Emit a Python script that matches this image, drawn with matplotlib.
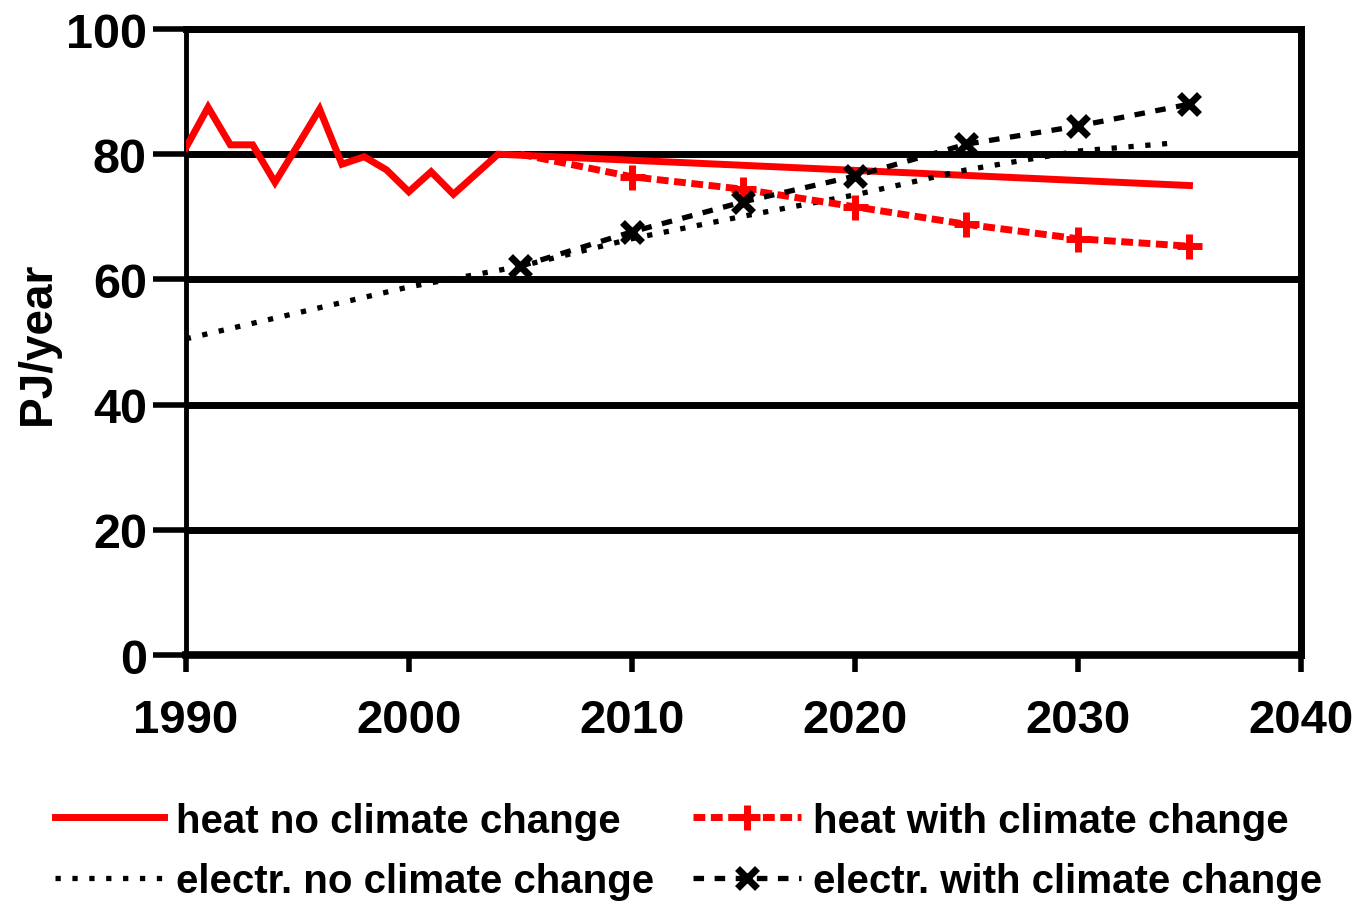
import matplotlib
matplotlib.use("Agg")
import matplotlib.pyplot as plt

plt.rcParams['font.family'] = ['Liberation Sans', 'DejaVu Sans']

# heat demand, historic years plus the no-climate-change projection
heat_years = [1990, 1991, 1992, 1993, 1994, 1995, 1996, 1997, 1998, 1999,
              2000, 2001, 2002, 2003, 2004, 2035]
heat_no_cc = [81, 87.5, 81.5, 81.5, 75.5, 81.3, 87.2, 78.4, 79.6, 77.5,
              74, 77.2, 73.6, 76.8, 80, 75]

# projections with climate change
proj_years = [2005, 2010, 2015, 2020, 2025, 2030, 2035]
heat_cc = [80, 76.4, 74.4, 71.6, 68.8, 66.5, 65.3]
elec_cc = [62.1, 67.6, 72.4, 76.5, 81.6, 84.5, 88.0]

# electricity demand without climate change
elec_years = [1990, 2000, 2005, 2010, 2015, 2020, 2025, 2030, 2034]
elec_no_cc = [50.5, 58.8, 62.1, 66.5, 70.1, 73.5, 77.5, 80.5, 81.7]

x_ticks = [1990, 2000, 2010, 2020, 2030, 2040]
y_ticks = [0, 20, 40, 60, 80, 100]

fig = plt.figure(figsize=(13.56, 9.04), dpi=100)
ax = fig.add_axes([0.137, 0.2743, 0.8224, 0.6925])

for y in y_ticks[1:]:
    ax.axhline(y, color='black', lw=5, zorder=1)

ax.plot(heat_years, heat_no_cc, color='red', lw=5, solid_joinstyle='miter',
        label='heat no climate change', zorder=3)
ax.plot(elec_years, elec_no_cc, color='black', lw=3.8, ls=(0, (1, 2.2)),
        label='electr. no climate change', zorder=3)
ax.plot(proj_years, heat_cc, color='red', lw=5, ls=(0, (1.7, 0.8)),
        marker='+', ms=18, mew=5, markevery=slice(1, None),
        label='heat with climate change', zorder=4)
ax.plot(proj_years, elec_cc, color='black', lw=3.8, ls=(0, (2, 2)),
        marker='x', ms=14, mew=5,
        label='electr. with climate change', zorder=4)

ax.set_xlim(1990, 2040)
ax.set_ylim(0, 100)
ax.set_xticks(x_ticks)
ax.set_yticks(y_ticks)
ax.tick_params(axis='x', length=12, width=4, direction='out', pad=19,
               labelsize=34)
ax.tick_params(axis='y', length=24, width=4, direction='out', pad=4,
               labelsize=35)
for lab in ax.get_xticklabels() + ax.get_yticklabels():
    lab.set_fontweight('bold')

ax.spines['left'].set_linewidth(3.5)
ax.spines['right'].set_linewidth(5)
ax.spines['bottom'].set_linewidth(5.5)
ax.spines['top'].set_linewidth(5)

ax.set_ylabel('PJ/year', fontsize=33, fontweight='bold', labelpad=4)

handles, labels = ax.get_legend_handles_labels()
fig.legend(handles, labels, ncol=2, loc='upper left',
           bbox_to_anchor=(0.029, 0.13), frameon=False,
           prop={'size': 29, 'weight': 'bold'},
           handlelength=2.7, handletextpad=0.3, columnspacing=0.95,
           labelspacing=0.55, borderaxespad=0)

fig.savefig('out.png', dpi=100)
